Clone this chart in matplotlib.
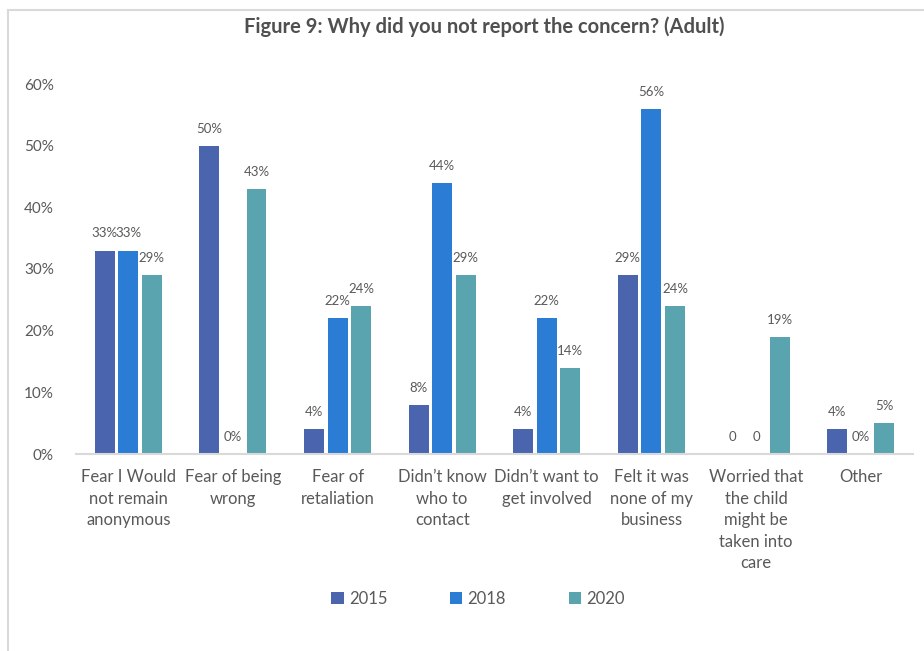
import matplotlib
matplotlib.use("Agg")
import matplotlib.pyplot as plt
from matplotlib.patches import Rectangle, Patch
import numpy as np

plt.rcParams['font.family'] = ['Lato', 'DejaVu Sans']

categories = [
    "Fear I Would\nnot remain\nanonymous",
    "Fear of being\nwrong",
    "Fear of\nretaliation",
    "Didn\u2019t know\nwho to\ncontact",
    "Didn\u2019t want to\nget involved",
    "Felt it was\nnone of my\nbusiness",
    "Worried that\nthe child\nmight be\ntaken into\ncare",
    "Other",
]
years = ["2015", "2018", "2020"]
values_2015 = [33, 50, 4, 8, 4, 29, 0, 4]
values_2018 = [33, 0, 22, 44, 22, 56, 0, 0]
values_2020 = [29, 43, 24, 29, 14, 24, 19, 5]
labels_2015 = ["33%", "50%", "4%", "8%", "4%", "29%", "0", "4%"]
labels_2018 = ["33%", "0%", "22%", "44%", "22%", "56%", "0", "0%"]
labels_2020 = ["29%", "43%", "24%", "29%", "14%", "24%", "19%", "5%"]

colors = ["#4A64AD", "#2B7CD5", "#5AA4AF"]
text_gray = "#595959"

fig = plt.figure(figsize=(9.24, 6.51), dpi=100)

# outer frame of the chart area
fig.add_artist(Rectangle((8 / 924, -0.01), 1.0, 1 - 10 / 651 + 0.01,
                         transform=fig.transFigure, fill=False,
                         edgecolor="#D9D9D9", linewidth=1.5))

ax = fig.add_axes([76 / 924, 1 - 454 / 651, (913 - 76) / 924, (454 - 84) / 651])

x = np.arange(len(categories))
width = 0.19
offsets = [-0.225, 0.0, 0.225]
series = [values_2015, values_2018, values_2020]
series_labels = [labels_2015, labels_2018, labels_2020]

for vals, labs, off, col in zip(series, series_labels, offsets, colors):
    bars = ax.bar(x + off, vals, width=width, color=col)
    for b, v, lab in zip(bars, vals, labs):
        ax.annotate(lab, (b.get_x() + b.get_width() / 2, v),
                    xytext=(0, 8), textcoords="offset points",
                    ha="center", va="bottom", fontsize=9.5, color=text_gray)

ax.set_xlim(-0.5, len(categories) - 0.5)
ax.set_ylim(0, 60)
ax.set_yticks(np.arange(0, 61, 10))
ax.set_yticklabels([f"{t}%" for t in range(0, 61, 10)], fontsize=11, color=text_gray)
ax.set_xticks(x)
ax.set_xticklabels(categories, fontsize=12, color=text_gray, linespacing=1.42, va="top")
ax.tick_params(axis="both", length=0)
ax.tick_params(axis="y", pad=16)
ax.tick_params(axis="x", pad=11)
for side in ["top", "right", "left"]:
    ax.spines[side].set_visible(False)
ax.spines["bottom"].set_color("#D9D9D9")
ax.spines["bottom"].set_linewidth(1.5)

fig.text(484 / 924, 1 - 27 / 651, "Figure 9: Why did you not report the concern? (Adult)",
         ha="center", va="center", fontsize=14.5, fontweight="bold", color="#505050")

handles = [Patch(facecolor=c, edgecolor="none") for c in colors]
fig.legend(handles, years, loc="center", bbox_to_anchor=(478 / 924, 1 - 599 / 651),
           ncol=3, frameon=False, fontsize=12, handlelength=0.75, handleheight=0.75,
           handletextpad=0.3, columnspacing=3.75, labelcolor=text_gray)

fig.savefig("out.png", dpi=100)
